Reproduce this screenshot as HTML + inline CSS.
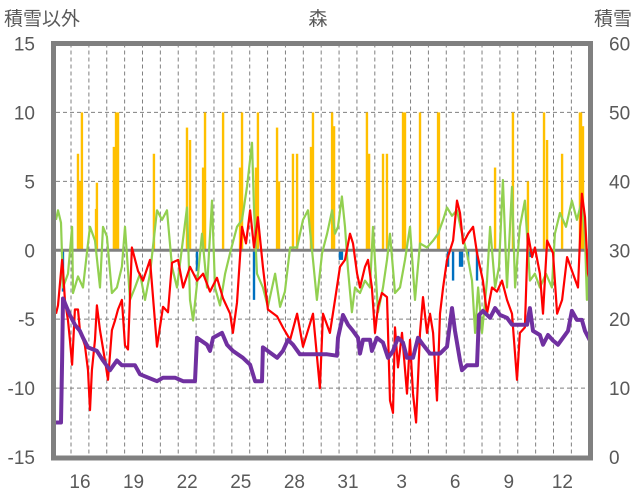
<!DOCTYPE html>
<html><head><meta charset="utf-8"><style>
html,body{margin:0;padding:0;background:#fff;}
svg{display:block;font-family:"Liberation Sans","Noto Sans CJK JP",sans-serif;}
</style></head><body>
<svg id="chart" width="636" height="501" viewBox="0 0 636 501">
<text x="4" y="25" font-size="19" fill="#595959">積雪以外</text>
<text x="318" y="25" font-size="19" fill="#595959" text-anchor="middle">森</text>
<text x="632" y="25" font-size="19" fill="#595959" text-anchor="end">積雪</text>
<g id="grid"></g>
<g id="bars"></g>
<g id="lines"></g>
<g id="axes"></g>
</svg>
<script>
const xTickLabels=["16","19","22","25","28","31","3","6","9","12"];
const leftTicks=[15,10,5,0,-5,-10,-15];
const rightTicks=[60,50,40,30,20,10,0];
const redT=[0,.11,.34,.39,.5,.67,.78,.9,1.06,1.23,1.34,1.62,1.79,1.9,2.01,2.18,2.29,2.46,2.74,2.91,3.13,3.3,3.47,3.69,3.86,4.03,4.25,4.59,4.87,5.26,5.65,5.99,6.27,6.49,6.83,7.11,7.5,7.89,8.23,8.62,9.01,9.35,9.74,9.9,10.13,10.41,10.63,10.86,11.08,11.3,11.58,11.86,12.37,12.7,13.1,13.49,13.82,14.38,14.77,14.94,15.33,15.61,15.89,16.17,16.45,16.62,16.85,17.01,17.29,17.46,17.68,17.85,18.02,18.24,18.52,18.69,18.86,18.97,19.14,19.36,19.64,19.81,19.98,20.15,20.37,20.54,20.76,20.93,21.1,21.32,21.49,21.66,21.88,22.22,22.44,22.61,22.78,23.06,23.34,23.56,23.89,24.12,24.4,24.68,24.96,25.24,25.52,25.8,25.96,26.24,26.41,26.64,26.8,27.08,27.25,27.48,27.81,28.04,28.32,28.6,28.93,29.21,29.43,29.6,29.77,29.89];
const redV=[-4.6,-4.0,-0.7,-1.4,-3.6,-5.1,-6.5,-8.3,-4.3,-4.3,-5.8,-6.9,-8.7,-11.6,-8.7,-6.5,-4.0,-5.8,-8.0,-9.4,-5.8,-5.1,-4.3,-3.6,-6.9,-7.2,0.2,-1.5,-2.2,-0.7,-7.0,-4.1,-4.5,-0.9,-0.7,-2.7,-1.2,-2.2,-1.7,-3.0,-2.0,-3.5,-4.6,-6.0,-3.8,1.7,0.5,2.9,0.2,2.4,-1.2,-4.3,-4.8,-5.6,-6.5,-4.6,-7.0,-4.6,-10.0,-4.6,-6.0,-3.6,-1.2,-0.7,1.2,0.5,-1.7,-2.7,-1.2,-0.7,-2.7,-6.0,-4.1,-3.1,-3.4,-10.9,-11.8,-5.6,-8.5,-6.0,-10.4,-6.5,-10.4,-12.5,-6.0,-3.4,-6.0,-4.6,-6.0,-10.9,-4.6,-2.7,-0.7,0.7,3.6,2.7,0.5,1.2,1.7,-0.2,-2.2,-4.6,-2.7,-3.0,-2.2,-3.6,-4.6,-9.4,-6.0,-5.6,1.2,-0.5,0.2,-1.7,-4.6,0.7,-0.2,-4.6,-3.6,-0.5,-1.7,-2.7,4.1,2.4,-1.7,-2.2];
const greenT=[0,.11,.28,.39,.67,.9,.95,1.23,1.51,1.73,1.9,2.18,2.46,2.63,2.85,3.13,3.41,3.69,3.86,4.14,4.42,4.7,4.98,5.26,5.65,5.93,6.21,6.49,6.77,7.05,7.33,7.5,7.67,7.95,8.17,8.45,8.73,8.9,9.18,9.46,9.74,10.13,10.41,10.69,10.97,11.08,11.25,11.58,11.86,12.26,12.54,12.81,13.1,13.49,13.82,14.1,14.38,14.6,14.89,15.17,15.45,15.61,15.78,16.0,16.17,16.34,16.56,16.73,17.01,17.29,17.57,17.74,18.02,18.3,18.52,18.69,18.97,19.25,19.53,19.81,20.09,20.37,20.76,21.1,21.38,21.66,21.88,22.16,22.44,22.72,23.0,23.28,23.45,23.62,23.84,24.12,24.29,24.57,24.79,25.01,25.24,25.52,25.69,25.96,26.24,26.52,26.8,27.08,27.42,27.75,27.92,28.2,28.54,28.87,29.15,29.43,29.6,29.71,29.89,30];
const greenV=[2.2,2.9,2.0,-2.7,-1.7,1.7,-3.1,-1.9,-2.7,-0.2,1.7,0.7,-2.7,1.7,1.0,-3.1,-2.7,-1.2,1.7,-3.6,-2.7,-1.7,-3.6,-1.7,2.9,2.2,2.9,-1.2,-2.7,0.2,3.1,-3.6,-5.1,-1.7,1.2,-2.7,3.6,-2.7,-4.0,-1.7,-0.2,1.7,2.2,4.6,7.8,3.0,-1.7,-2.7,-4.1,-1.7,-4.1,-3.0,0.2,0.2,2.2,2.9,-0.7,-3.6,-0.2,1.2,2.9,1.2,1.7,3.9,1.7,-1.4,-4.5,-2.7,-3.1,-2.2,-2.7,1.7,-4.5,-2.7,-0.7,1.2,-3.1,-2.7,-0.7,1.7,-3.6,0.5,0.2,0.7,1.2,2.2,3.1,2.5,2.9,1.2,-0.2,-2.2,-6.0,-2.7,-6.0,-2.2,1.7,-2.7,-1.2,5.1,-2.7,4.6,-2.7,1.7,3.6,-2.2,-1.7,-2.7,-1.7,-2.7,1.2,2.7,1.7,3.6,2.2,3.6,1.0,-3.6,1.7,0.8];
const snowT=[0,.28,.34,.39,.78,1.06,1.34,1.51,1.79,2.29,2.63,3.02,3.41,3.69,4.42,4.7,5.65,5.99,6.66,7.11,7.78,7.89,8.45,8.62,8.79,9.29,9.57,9.9,10.46,10.86,11.14,11.53,11.58,12.37,12.7,12.98,13.26,13.65,15.17,15.72,15.78,16.06,16.34,16.62,16.9,17.01,17.18,17.57,17.68,17.96,18.3,18.58,18.86,19.14,19.42,19.64,19.98,20.26,20.54,20.93,21.49,21.88,22.16,22.33,22.61,22.72,23.0,23.56,23.67,23.89,24.29,24.57,24.85,25.24,25.52,26.36,26.52,26.69,27.08,27.25,27.53,27.81,28.09,28.37,28.65,28.87,29.15,29.43,29.6,30];
const snowV=[5,5,14,23,20.6,19.2,18.3,17.3,15.9,15.4,14,12.6,14,13.3,13.3,12,11,11.5,11.5,11,11,17.3,16.3,15.4,17.3,18,16.3,15.4,14.4,13.4,11,11,15.9,14.4,15.4,17,16.3,14.9,14.9,14.7,17.3,20.6,19.2,18.3,17.3,15,17,17,15.4,17.3,16.6,14.4,15.4,17.3,16.6,14.4,14.4,17.3,16.3,15,15,16,21.6,18.3,14,12.6,13.3,13.3,20.6,21.2,20.2,21.6,20.6,20.2,19.2,19.2,21.6,18.3,17.7,16.3,17.7,16.9,16.3,17.3,18.3,21.2,19.9,19.9,18.3,16.3];
const precipT=[1.23,1.34,1.45,2.24,2.29,3.24,3.36,3.47,5.48,7.33,7.5,8.23,8.34,9.35,10.3,10.41,11.19,11.3,12.37,12.48,13.26,13.49,14.27,14.38,15.45,15.56,17.4,17.52,18.3,18.52,19.42,19.53,20.37,21.38,21.43,24.57,25.57,26.41,27.31,27.48,28.32,29.32,29.38,29.49];
const precipV=[7,5,10,3,4.9,7.5,10,10,7,8.9,8,6,10,10,6,10,6,10,8.9,5,7,7,7.5,10,10,9,10,7,7,7,10,10,10,10,10,6,10,5,10,8,7,10,10,9];
const negT=[.39,7.89,11.08,15.89,16.0,21.94,22.22,22.61,22.72,23.06,23.56,26.52];
const negV=[-3,-1.5,-3.6,-0.7,-0.7,-1.2,-2.2,-1.2,-1.2,-0.7,-2.2,-0.5];

const NS="http://www.w3.org/2000/svg";
const X0=56,X1=588,DAY=17.87,YT=43.5,YB=457;
const xS=d=>X0+d*DAY;
const yL=v=>YB-(v+15)/30*(YB-YT);
const yR=v=>YB-v/60*(YB-YT);
function mk(tag,parent,attrs){const e=document.createElementNS(NS,tag);for(const k in attrs)e.setAttribute(k,attrs[k]);parent.appendChild(e);return e;}
const grid=document.getElementById('grid'),bars=document.getElementById('bars'),lines=document.getElementById('lines'),axes=document.getElementById('axes');
const svg=document.getElementById('chart');
const defs=mk('defs',svg,{});const cp=mk('clipPath',defs,{id:'clip'});mk('rect',cp,{x:X0,y:YT,width:X1-X0,height:YB-YT});
bars.setAttribute('clip-path','url(#clip)');lines.setAttribute('clip-path','url(#clip)');
[10,5,-5,-10].forEach(v=>{const l=mk('line',grid,{x1:X0,x2:X1,y1:yL(v),y2:yL(v),stroke:'#808080','stroke-width':1,'stroke-dasharray':'4,3'});

});
for(let k=0;k<30;k++){const d=0.84+k;const l=mk('line',grid,{x1:xS(d),x2:xS(d),y1:YT,y2:YB,stroke:'#808080','stroke-width':1,'stroke-dasharray':'4,3'});

}
precipT.forEach((t,i)=>{const r=mk('rect',bars,{x:xS(t)-1.2,y:yL(precipV[i]),width:2.4,height:yL(0)-yL(precipV[i]),fill:'#ffc000'});

});
negT.forEach((t,i)=>{const r=mk('rect',bars,{x:xS(t)-1.2,y:yL(0),width:2.4,height:yL(negV[i])-yL(0),fill:'#0070c0'});

});
const zl=mk('line',bars,{x1:X0,x2:X1,y1:yL(0),y2:yL(0),stroke:'#808080','stroke-width':3});


function path(T,V,sc,color,w,name){const d=T.map((t,i)=>(i?'L':'M')+xS(t).toFixed(1)+','+sc(V[i]).toFixed(1)).join('');
const p=mk('path',lines,{d:d,fill:'none',stroke:color,'stroke-width':w,'stroke-linejoin':'round'});

}
path(greenT,greenV,yL,'#92d050',2.2,'green-line');
path(redT,redV,yL,'#ff0000',2.2,'temperature-line');
path(snowT,snowV,yR,'#7030a0',4,'snow-depth-line');
const border=mk('rect',axes,{x:53.5,y:YT,width:590.5-53.5,height:YB+1-YT,fill:'none',stroke:'#808080','stroke-width':5});


leftTicks.forEach(v=>{const t=mk('text',axes,{x:35,y:yL(v)+7,'font-size':19,fill:'#595959','text-anchor':'end'});t.textContent=v;

});
rightTicks.forEach(v=>{const t=mk('text',axes,{x:609,y:yR(v)+7,'font-size':19,fill:'#595959'});t.textContent=v;

});
xTickLabels.forEach((s,i)=>{const t=mk('text',axes,{x:xS(1.34+3*i),y:488,'font-size':19,fill:'#595959','text-anchor':'middle'});t.textContent=s;

});
</script>
</body></html>
